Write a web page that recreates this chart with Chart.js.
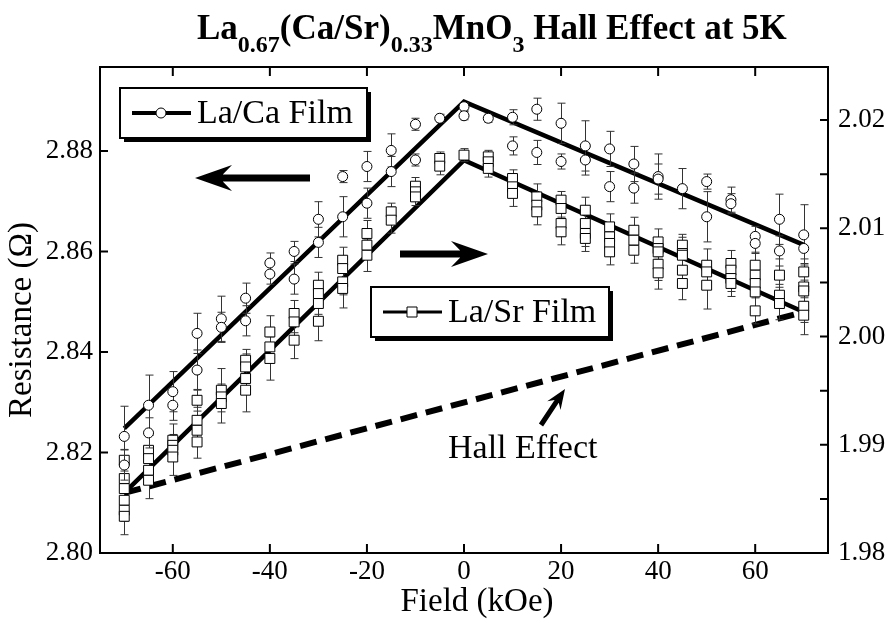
<!DOCTYPE html>
<html>
<head>
<meta charset="utf-8">
<script src="https://cdn.jsdelivr.net/npm/chart.js@4.4.1/dist/chart.umd.min.js"></script>
<style>
  body { margin: 0; background: #fff; }
  #wrap { position: relative; width: 894px; height: 621px; }
  #title {
    position: absolute; left: 197px; top: 6px; white-space: nowrap;
    font: bold 35px "Liberation Serif"; line-height: 44px; color: #000;
  }
  #title span.s { font-size: 24px; position: relative; top: 13px; }
</style>
</head>
<body>
<div id="wrap">
  <canvas id="chart" width="894" height="621"></canvas>
  <div id="title">La<span class="s">0.67</span>(Ca/Sr)<span class="s">0.33</span>MnO<span class="s">3</span> Hall Effect at 5K</div>
</div>
<script>
// ticks
let xTicks = [-60, -40, -20, 0, 20, 40, 60];
let leftTicks = [2.80, 2.82, 2.84, 2.86, 2.88];
let rightTicks = [1.98, 1.99, 2.00, 2.01, 2.02];
let rightMinor = [1.985, 1.995, 2.005, 2.015];

// La/Ca film (left axis)
let caField = [-70, -70, -65, -65, -60, -60, -55, -55, -50, -50, -45, -45, -40, -40, -35, -35,
    -30, -30, -25, -25, -20, -20, -15, -15, -10, -10, -5, 0, 0, 5, 10, 10, 15, 15, 20, 20,
    25, 25, 30, 30, 35, 35, 40, 40, 45, 50, 50, 55, 55, 60, 60, 65, 65, 70, 70];
let caValue = [2.8232, 2.8175, 2.8294, 2.8239, 2.8321, 2.8294, 2.8437, 2.8364, 2.8466, 2.8449,
    2.8507, 2.8462, 2.8577, 2.8555, 2.8600, 2.8545, 2.8664, 2.8618, 2.8749, 2.8669,
    2.8769, 2.8696, 2.8801, 2.8759, 2.8853, 2.8782, 2.8865, 2.8888, 2.8870, 2.8865,
    2.8867, 2.8810, 2.8883, 2.8797, 2.8855, 2.8779, 2.8810, 2.8782, 2.8804, 2.8729,
    2.8774, 2.8726, 2.8749, 2.8744, 2.8725, 2.8739, 2.8669, 2.8703, 2.8695, 2.8630,
    2.8616, 2.8664, 2.8601, 2.8633, 2.8606];
let caError = [0.006, 0.003, 0.006, 0.003, 0.004, 0.003, 0.004, 0.004, 0.0045, 0.003,
    0.003, 0.003, 0.002, 0.002, 0.002, 0.003, 0.0035, 0.003, 0.0012, 0.004,
    0.003, 0.003, 0.0033, 0.003, 0.0012, 0.0012, 0.0008, 0.0008, 0.0008, 0.0008,
    0.0015, 0.0018, 0.0022, 0.0024, 0.004, 0.0015, 0.005, 0.003, 0.0035, 0.003,
    0.0035, 0.003, 0.0045, 0.003, 0.004, 0.0015, 0.005, 0.0025, 0.002, 0.002,
    0.002, 0.005, 0.003, 0.006, 0.003];

// La/Sr film (right axis)
let srField = [-70, -70, -70, -70, -70, -70, -65, -65, -65, -65, -60, -60, -60, -60,
    -55, -55, -55, -55, -50, -50, -50, -45, -45, -45, -45, -40, -40, -40, -35, -35, -35,
    -30, -30, -30, -30, -25, -25, -25, -25, -20, -20, -20, -15, -15, -10, -10, -10,
    -5, -5, 0, 5, 5, 5, 10, 10, 10, 15, 15, 15, 20, 20, 20, 20, 25, 25, 25, 25,
    30, 30, 30, 30, 35, 35, 35, 40, 40, 40, 40, 40, 45, 45, 45, 45, 45, 50, 50, 50,
    55, 55, 55, 55, 60, 60, 60, 60, 60, 65, 65, 65, 70, 70, 70, 70, 70];
let srValue = [1.98857, 1.98688, 1.98595, 1.98487, 1.98395, 1.98339, 1.98949, 1.98872, 1.98764, 1.98672,
    1.99042, 1.98995, 1.98949, 1.98887, 1.99411, 1.99226, 1.99134, 1.99026, 1.99504, 1.99442, 1.99381,
    1.99781, 1.99719, 1.99612, 1.99504, 2.00042, 1.99904, 1.99797, 2.00213, 2.00135, 1.99966,
    2.00474, 2.00397, 2.00305, 2.00141, 2.00705, 2.00628, 2.00505, 2.00444, 2.00952, 2.00844, 2.00751,
    2.01152, 2.01075, 2.01389, 2.01337, 2.01290, 2.01645, 2.01574, 2.01676, 2.01660, 2.01614, 2.01553,
    2.01460, 2.01383, 2.01322, 2.01290, 2.01213, 2.01152, 2.01260, 2.01183, 2.01044, 2.00967,
    2.01167, 2.01044, 2.00952, 2.00906, 2.01013, 2.00921, 2.00860, 2.00782, 2.00982, 2.00890, 2.00797,
    2.00874, 2.00813, 2.00782, 2.00668, 2.00588, 2.00844, 2.00767, 2.00751, 2.00613, 2.00490,
    2.00659, 2.00597, 2.00474, 2.00675, 2.00613, 2.00536, 2.00490, 2.00659, 2.00567, 2.00490, 2.00412, 2.00237,
    2.00567, 2.00382, 2.00305, 2.00597, 2.00458, 2.00421, 2.00280, 2.00197];
let srError = [0.001, 0.001, 0.0012, 0.001, 0.001, 0.0017, 0.0015, 0.001, 0.001, 0.0017,
    0.0015, 0.001, 0.001, 0.0017, 0.001, 0.0012, 0.001, 0.0015, 0.002, 0.001, 0.0018,
    0.001, 0.0012, 0.001, 0.002, 0.0015, 0.001, 0.002, 0.0012, 0.001, 0.0017,
    0.0012, 0.001, 0.001, 0.0018, 0.0012, 0.001, 0.0012, 0.0018, 0.0012, 0.001, 0.0015,
    0.0008, 0.0012, 0.0008, 0.0008, 0.0008, 0.0006, 0.0008, 0.0006, 0.0006, 0.0006, 0.0008,
    0.0008, 0.0008, 0.0012, 0.0012, 0.0008, 0.0012, 0.0008, 0.0008, 0.0012, 0.0012,
    0.0012, 0.001, 0.0012, 0.0012, 0.0012, 0.001, 0.0012, 0.0012, 0.0012, 0.001, 0.0012,
    0.0012, 0.001, 0.001, 0.0015, 0.0015, 0.001, 0.0015, 0.001, 0.0012, 0.0015,
    0.0015, 0.001, 0.0022, 0.0012, 0.001, 0.0012, 0.0012, 0.0012, 0.001, 0.001, 0.0015, 0.0012,
    0.0015, 0.001, 0.0015, 0.0012, 0.001, 0.001, 0.0015, 0.0018];

// fitted lines and Hall effect
let fitField = [-70, 0, 70];
let caFit = [2.8248, 2.8898, 2.8613];
let srFit = [1.98555, 2.01629, 2.00227];
let hallField = [-70, 70];
let hallValue = [1.98555, 2.00227];

function toPoints(xs, ys) {
    return xs.map((x, i) => ({ x: x, y: ys[i] }));
}

const serif = 'Liberation Serif';

// error bars, drawn before each scatter set so markers sit on top
const errorBars = {
    id: 'errorBars',
    beforeDatasetDraw(chart, args) {
        const ds = chart.data.datasets[args.index];
        if (!ds.errors) return;
        const ctx = chart.ctx;
        const xs = chart.scales.x, ys = chart.scales[ds.yAxisID];
        ctx.save();
        ctx.strokeStyle = '#333';
        ctx.lineWidth = 1;
        ctx.beginPath();
        ds.data.forEach((p, i) => {
            const px = Math.round(xs.getPixelForValue(p.x)) + 0.5;
            const top = ys.getPixelForValue(p.y + ds.errors[i]);
            const bot = ys.getPixelForValue(p.y - ds.errors[i]);
            ctx.moveTo(px, top); ctx.lineTo(px, bot);
            ctx.moveTo(px - 4, top); ctx.lineTo(px + 4, top);
            ctx.moveTo(px - 4, bot); ctx.lineTo(px + 4, bot);
        });
        ctx.stroke();
        ctx.restore();
    }
};

function arrow(ctx, x1, y1, x2, y2, shaft, headLen, headHalf) {
    const ang = Math.atan2(y2 - y1, x2 - x1);
    const len = Math.hypot(x2 - x1, y2 - y1);
    ctx.save();
    ctx.translate(x2, y2);
    ctx.rotate(ang);
    ctx.beginPath();
    ctx.moveTo(0, 0);
    ctx.lineTo(-headLen, -headHalf);
    ctx.lineTo(-headLen * 0.75, -shaft / 2);
    ctx.lineTo(-len, -shaft / 2);
    ctx.lineTo(-len, shaft / 2);
    ctx.lineTo(-headLen * 0.75, shaft / 2);
    ctx.lineTo(-headLen, headHalf);
    ctx.closePath();
    ctx.fillStyle = '#000';
    ctx.fill();
    ctx.restore();
}

function legendBox(ctx, x, y, w, h, lineW, marker, label) {
    ctx.fillStyle = '#000';
    ctx.fillRect(x + 4, y + 4, w, h);
    ctx.fillStyle = '#fff';
    ctx.fillRect(x, y, w, h);
    ctx.strokeStyle = '#000';
    ctx.lineWidth = 2;
    ctx.strokeRect(x, y, w, h);
    const cy = y + h / 2;
    ctx.lineWidth = lineW;
    ctx.beginPath();
    ctx.moveTo(x + 12, cy); ctx.lineTo(x + 71, cy);
    ctx.stroke();
    ctx.lineWidth = 1;
    ctx.fillStyle = '#fff';
    ctx.beginPath();
    if (marker == 'circle') ctx.arc(x + 41, cy, 5, 0, Math.PI * 2);
    else ctx.rect(x + 36, cy - 5, 10, 10);
    ctx.fill(); ctx.stroke();
    ctx.fillStyle = '#000';
    ctx.font = '34px "' + serif + '"';
    ctx.textBaseline = 'middle';
    ctx.textAlign = 'left';
    ctx.fillText(label, x + 77, cy + 1);
}

const frame = {
    id: 'frame',
    afterDraw(chart) {
        const ctx = chart.ctx, a = chart.chartArea;
        const x = chart.scales.x, y = chart.scales.y, y2 = chart.scales.y2;
        ctx.save();
        ctx.strokeStyle = '#000';
        ctx.lineWidth = 2;
        ctx.strokeRect(a.left, a.top, a.right - a.left, a.bottom - a.top);
        ctx.beginPath();
        xTicks.forEach(v => {
            const px = x.getPixelForValue(v);
            ctx.moveTo(px, a.bottom); ctx.lineTo(px, a.bottom - 9);
            ctx.moveTo(px, a.top); ctx.lineTo(px, a.top + 9);
        });
        leftTicks.forEach(v => {
            const py = y.getPixelForValue(v);
            ctx.moveTo(a.left, py); ctx.lineTo(a.left + 8, py);
        });
        rightTicks.concat(rightMinor).forEach(v => {
            const py = y2.getPixelForValue(v);
            ctx.moveTo(a.right, py); ctx.lineTo(a.right - 8, py);
        });
        ctx.stroke();

        legendBox(ctx, 120, 88, 247, 50, 4, 'circle', 'La/Ca Film');
        legendBox(ctx, 371, 287, 238, 50, 3, 'rect', 'La/Sr Film');

        arrow(ctx, 310, 178, 195, 178, 7, 37, 13);
        arrow(ctx, 400, 254, 488, 254, 7, 37, 13);
        arrow(ctx, 541, 425, 565, 389, 5, 20, 8);

        ctx.fillStyle = '#000';
        ctx.font = '34px "' + serif + '"';
        ctx.textAlign = 'left';
        ctx.textBaseline = 'alphabetic';
        ctx.fillText('Hall Effect', 448, 458);

        // axis titles
        ctx.font = '33px "' + serif + '"';
        ctx.textAlign = 'center';
        ctx.textBaseline = 'middle';
        ctx.fillText('Field (kOe)', 477, 602);
        ctx.translate(22, 320);
        ctx.rotate(-Math.PI / 2);
        ctx.fillText('Resistance (Ω)', 0, 0);
        ctx.restore();
    }
};

new Chart(document.getElementById('chart'), {
    type: 'scatter',
    data: {
        datasets: [
            {
                label: 'La/Ca Film',
                data: toPoints(caField, caValue),
                errors: caError,
                yAxisID: 'y',
                pointStyle: 'circle',
                pointRadius: 5,
                pointBackgroundColor: '#fff',
                pointBorderColor: '#000',
                pointBorderWidth: 1,
                order: 0
            },
            {
                label: 'La/Sr Film',
                data: toPoints(srField, srValue),
                errors: srError,
                yAxisID: 'y2',
                pointStyle: 'rect',
                pointRadius: 7,
                pointBackgroundColor: '#fff',
                pointBorderColor: '#000',
                pointBorderWidth: 1,
                order: 1
            },
            {
                type: 'line',
                label: 'La/Ca fit',
                data: toPoints(fitField, caFit),
                yAxisID: 'y',
                borderColor: '#000',
                borderWidth: 4.5,
                pointRadius: 0,
                order: 2
            },
            {
                type: 'line',
                label: 'La/Sr fit',
                data: toPoints(fitField, srFit),
                yAxisID: 'y2',
                borderColor: '#000',
                borderWidth: 4.5,
                pointRadius: 0,
                order: 3
            },
            {
                type: 'line',
                label: 'Hall Effect',
                data: toPoints(hallField, hallValue),
                yAxisID: 'y2',
                borderColor: '#000',
                borderWidth: 6,
                borderDash: [17, 9],
                pointRadius: 0,
                order: 4
            }
        ]
    },
    options: {
        responsive: false,
        animation: false,
        layout: { padding: { top: 67, left: 0, right: 0, bottom: 0 } },
        plugins: {
            legend: { display: false },
            tooltip: { enabled: false }
        },
        scales: {
            x: {
                type: 'linear',
                min: -75, max: 75,
                grid: { display: false, drawTicks: false },
                border: { display: false },
                afterBuildTicks: s => { s.ticks = xTicks.map(v => ({ value: v })); },
                afterFit: s => { s.height = 68; },
                ticks: { font: { family: serif, size: 27 }, color: '#000', padding: 3 }
            },
            y: {
                position: 'left',
                min: 2.80, max: 2.8967,
                grid: { display: false, drawTicks: false },
                border: { display: false },
                afterBuildTicks: s => { s.ticks = leftTicks.map(v => ({ value: v })); },
                afterFit: s => { s.width = 100; },
                ticks: { font: { family: serif, size: 27 }, color: '#000', padding: 7, callback: v => v.toFixed(2) }
            },
            y2: {
                position: 'right',
                min: 1.98, max: 2.0249,
                grid: { display: false, drawTicks: false },
                border: { display: false },
                afterBuildTicks: s => { s.ticks = rightTicks.map(v => ({ value: v })); },
                afterFit: s => { s.width = 66; },
                ticks: { font: { family: serif, size: 27 }, color: '#000', padding: 10, callback: v => v.toFixed(2) }
            }
        }
    },
    plugins: [errorBars, frame]
});
</script>
</body>
</html>
